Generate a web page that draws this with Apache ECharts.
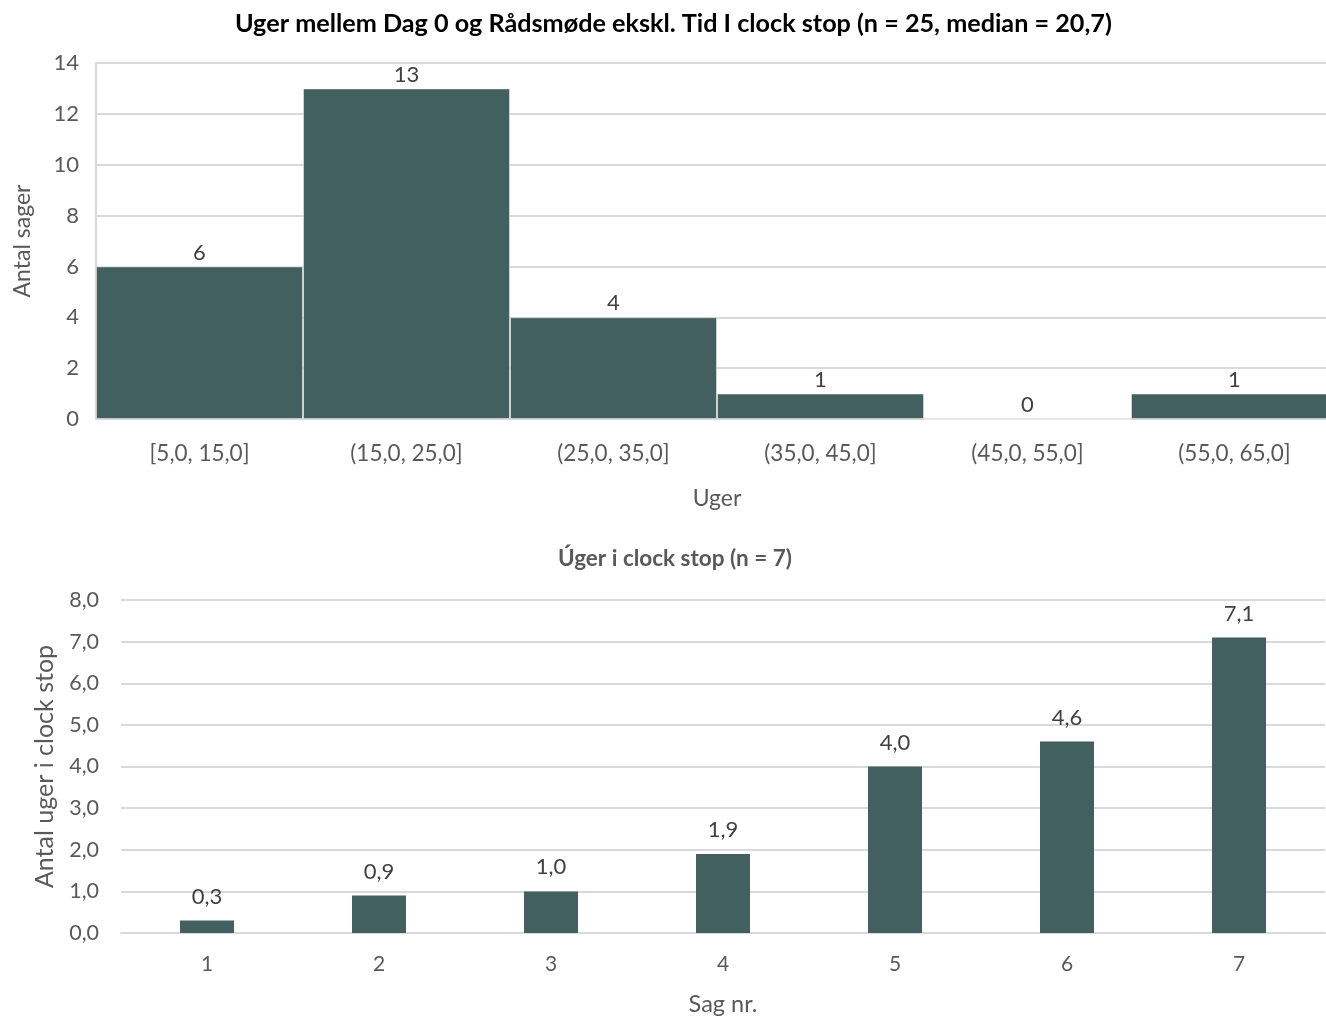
<!DOCTYPE html>
<html>
<head>
<meta charset="utf-8">
<script src="https://cdn.jsdelivr.net/npm/echarts@6/dist/echarts.min.js"></script>
<style>
  html, body { margin: 0; padding: 0; background: #fff; overflow: hidden; }
  #chart { width: 1326px; height: 1018px; }
</style>
</head>
<body>
<div id="chart"></div>
<script>
// Histogram: weeks between day 0 and council meeting
const binLabels = ['[5,0, 15,0]', '(15,0, 25,0]', '(25,0, 35,0]', '(35,0, 45,0]', '(45,0, 55,0]', '(55,0, 65,0]'];
const binCounts = [6, 13, 4, 1, 0, 1];
const histTicks = [0, 2, 4, 6, 8, 10, 12, 14];

// Weeks in clock stop per case
const caseNumbers = ['1', '2', '3', '4', '5', '6', '7'];
const clockStopWeeks = [0.3, 0.9, 1.0, 1.9, 4.0, 4.6, 7.1];
const clockTicks = [0, 1, 2, 3, 4, 5, 6, 7, 8];

const FONT = 'Lato, "Open Sans", sans-serif';
const BAR = '#41605f';
const GRID = '#d9d9d9';
const TXT = '#595959';
const comma = v => Number(v).toFixed(1).replace('.', ',');

const chart = echarts.init(document.getElementById('chart'), null, { renderer: 'canvas' });

chart.setOption({
  animation: false,
  textStyle: { fontFamily: FONT },
  title: [
    {
      text: 'Uger mellem Dag 0 og Rådsmøde ekskl. Tid I clock stop (n = 25, median = 20,7)',
      left: 230, top: 6,
      textStyle: { fontFamily: FONT, fontSize: 25.2, fontWeight: 'bold', color: '#000' }
    },
    {
      text: 'Úger i clock stop (n = 7)',
      left: 553, top: 542,
      textStyle: { fontFamily: FONT, fontSize: 22.5, fontWeight: 'bold', color: '#595959' }
    }
  ],
  grid: [
    // the histogram runs a little past the right edge of the page
    { left: 96, width: 1242, top: 63, height: 356, containLabel: false, outerBoundsMode: 'none' },
    { left: 121, right: 1, top: 600, bottom: 85, containLabel: false, outerBoundsMode: 'none' }
  ],
  xAxis: [
    {
      type: 'category', gridIndex: 0, data: binLabels,
      name: 'Uger', nameLocation: 'middle', nameGap: 68,
      nameTextStyle: { fontFamily: FONT, fontSize: 23, color: TXT },
      axisLine: { show: true, lineStyle: { color: GRID, width: 2 } },
      axisTick: { show: false },
      axisLabel: { fontFamily: FONT, fontSize: 22.5, color: TXT, margin: 23 }
    },
    {
      type: 'category', gridIndex: 1, data: caseNumbers,
      name: 'Sag nr.', nameLocation: 'middle', nameGap: 59,
      nameTextStyle: { fontFamily: FONT, fontSize: 23.5, color: TXT },
      axisLine: { show: true, lineStyle: { color: GRID, width: 2 } },
      axisTick: { show: false },
      axisLabel: { fontFamily: FONT, fontSize: 21, color: TXT, margin: 21 }
    }
  ],
  yAxis: [
    {
      type: 'value', gridIndex: 0,
      min: histTicks[0], max: histTicks[histTicks.length - 1], interval: 2,
      name: 'Antal sager', nameLocation: 'middle', nameGap: 62,
      nameTextStyle: { fontFamily: FONT, fontSize: 23, color: TXT },
      axisLine: { show: true, lineStyle: { color: GRID, width: 2 } },
      axisTick: { show: false },
      axisLabel: { fontFamily: FONT, fontSize: 22, color: TXT, margin: 17 },
      splitLine: { show: true, lineStyle: { color: GRID, width: 2 } }
    },
    {
      type: 'value', gridIndex: 1,
      min: clockTicks[0], max: clockTicks[clockTicks.length - 1], interval: 1,
      name: 'Antal uger i clock stop', nameLocation: 'middle', nameGap: 64,
      nameTextStyle: { fontFamily: FONT, fontSize: 25, color: TXT },
      axisLine: { show: false },
      axisTick: { show: false },
      axisLabel: { fontFamily: FONT, fontSize: 21.5, color: TXT, margin: 22, formatter: comma },
      splitLine: { show: true, lineStyle: { color: GRID, width: 2 } }
    }
  ],
  series: [
    {
      type: 'bar', xAxisIndex: 0, yAxisIndex: 0, data: binCounts,
      barWidth: '100%', barCategoryGap: '0%',
      itemStyle: { color: BAR, borderColor: 'rgba(255,255,255,0.45)', borderWidth: 1 },
      label: { show: true, position: 'top', distance: 3, fontFamily: FONT, fontSize: 22, color: '#404040' }
    },
    {
      type: 'bar', xAxisIndex: 1, yAxisIndex: 1, data: clockStopWeeks,
      barWidth: 54,
      itemStyle: { color: BAR },
      label: { show: true, position: 'top', distance: 13, fontFamily: FONT, fontSize: 22, color: '#404040', formatter: p => comma(p.value) }
    }
  ]
});
</script>
</body>
</html>
